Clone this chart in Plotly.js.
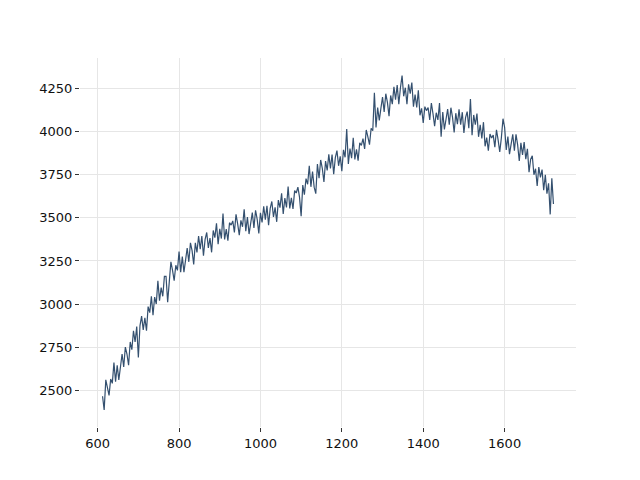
<!DOCTYPE html>
<html>
<head>
<meta charset="utf-8">
<script src="https://cdn.plot.ly/plotly-3.0.1.min.js"></script>
<style>html,body{margin:0;padding:0;background:#fff;}</style>
</head>
<body>
<div id="chart" style="width:640px;height:480px;"></div>
<script>
const xValues = [
612,616,620,624,628,632,636,640,644,648,
652,656,660,664,668,672,676,680,684,688,
692,696,700,704,708,712,716,720,724,728,
732,736,740,744,748,752,756,760,764,768,
772,776,780,784,788,792,796,800,804,808,
812,816,820,824,828,832,836,840,844,848,
852,856,860,864,868,872,876,880,884,888,
892,896,900,904,908,912,916,920,924,928,
932,936,940,944,948,952,956,960,964,968,
972,976,980,984,988,992,996,1000,1004,1008,
1012,1016,1020,1024,1028,1032,1036,1040,1044,1048,
1052,1056,1060,1064,1068,1072,1076,1080,1084,1088,
1092,1096,1100,1104,1108,1112,1116,1120,1124,1128,
1132,1136,1140,1144,1148,1152,1156,1160,1164,1168,
1172,1176,1180,1184,1188,1192,1196,1200,1204,1208,
1212,1216,1220,1224,1228,1232,1236,1240,1244,1248,
1252,1256,1260,1264,1268,1272,1276,1280,1284,1288,
1292,1296,1300,1304,1308,1312,1316,1320,1324,1328,
1332,1336,1340,1344,1348,1352,1356,1360,1364,1368,
1372,1376,1380,1384,1388,1392,1396,1400,1404,1408,
1412,1416,1420,1424,1428,1432,1436,1440,1444,1448,
1452,1456,1460,1464,1468,1472,1476,1480,1484,1488,
1492,1496,1500,1504,1508,1512,1516,1520,1524,1528,
1532,1536,1540,1544,1548,1552,1556,1560,1564,1568,
1572,1576,1580,1584,1588,1592,1596,1600,1604,1608,
1612,1616,1620,1624,1628,1632,1636,1640,1644,1648,
1652,1656,1660,1664,1668,1672,1676,1680,1684,1688,
1692,1696,1700,1704,1708,1712,1716,1720
];
const yValues = [
2465,2385,2560,2520,2470,2565,2540,2660,2550,2645,
2560,2635,2710,2635,2750,2710,2645,2780,2735,2845,
2780,2870,2690,2875,2930,2850,2920,2845,2985,2950,
3045,2935,3040,3000,3135,3020,3095,3045,3160,3160,
3010,3130,3245,3195,3135,3225,3195,3305,3185,3275,
3185,3255,3325,3245,3355,3310,3230,3355,3300,3395,
3318,3395,3280,3375,3415,3325,3383,3300,3427,3385,
3468,3347,3436,3380,3525,3375,3435,3368,3472,3458,
3482,3416,3520,3465,3400,3485,3448,3550,3422,3504,
3406,3468,3530,3442,3544,3491,3410,3529,3473,3567,
3490,3570,3457,3555,3595,3505,3561,3477,3603,3559,
3642,3523,3615,3560,3681,3555,3616,3552,3658,3644,
3678,3620,3510,3690,3635,3728,3695,3802,3680,3768,
3678,3640,3812,3730,3836,3787,3708,3829,3775,3868,
3787,3867,3753,3849,3890,3802,3857,3771,3895,3851,
4015,3813,3902,3846,3965,3839,3898,3832,3936,3920,
3960,3900,4010,3970,3925,4020,4005,4225,4025,4140,
4065,4135,4200,4115,4220,4170,4090,4210,4160,4260,
4185,4270,4160,4255,4325,4205,4255,4160,4275,4220,
4285,4145,4215,4140,4240,4095,4135,4050,4145,4122,
4140,4068,4166,4104,4032,4110,4068,4166,3970,4114,
4013,4072,4131,4040,4139,4083,3996,4107,4043,4129,
4040,4113,3992,4081,4116,4020,4190,3979,4097,4040,
4105,3970,4040,3960,4055,3915,3965,3890,3986,3963,
3980,3910,4011,3952,3883,3964,4075,4025,3894,3972,
3870,3928,3985,3890,3985,3923,3830,3935,3865,3940,
3840,3900,3765,3840,3860,3750,3785,3685,3795,3735,
3780,3660,3750,3640,3700,3520,3730,3580
];
const xTickVals = [600, 800, 1000, 1200, 1400, 1600];
const yTickVals = [2500, 2750, 3000, 3250, 3500, 3750, 4000, 4250];

const trace = {
  x: xValues,
  y: yValues,
  type: 'scatter',
  mode: 'lines',
  line: {color: '#34506f', width: 1.2},
  hoverinfo: 'skip'
};

const axisCommon = {
  showgrid: true,
  gridcolor: '#e6e6e6',
  gridwidth: 1,
  zeroline: false,
  showline: false,
  ticks: 'outside',
  ticklen: 4,
  tickwidth: 1,
  tickcolor: '#333',
  tickfont: {family: 'DejaVu Sans', size: 13, color: '#111'}
};

const layout = {
  width: 640,
  height: 480,
  margin: {l: 80, r: 64, t: 57.6, b: 52.8},
  paper_bgcolor: '#fff',
  plot_bgcolor: '#fff',
  showlegend: false,
  xaxis: Object.assign({}, axisCommon, {
    range: [556.6, 1775.4],
    tickvals: xTickVals,
    ticktext: xTickVals.map(String)
  }),
  yaxis: Object.assign({}, axisCommon, {
    range: [2286.7, 4427.3],
    tickvals: yTickVals,
    ticktext: yTickVals.map(String)
  })
};

Plotly.newPlot('chart', [trace], layout, {staticPlot: true, displayModeBar: false});
</script>
</body>
</html>
